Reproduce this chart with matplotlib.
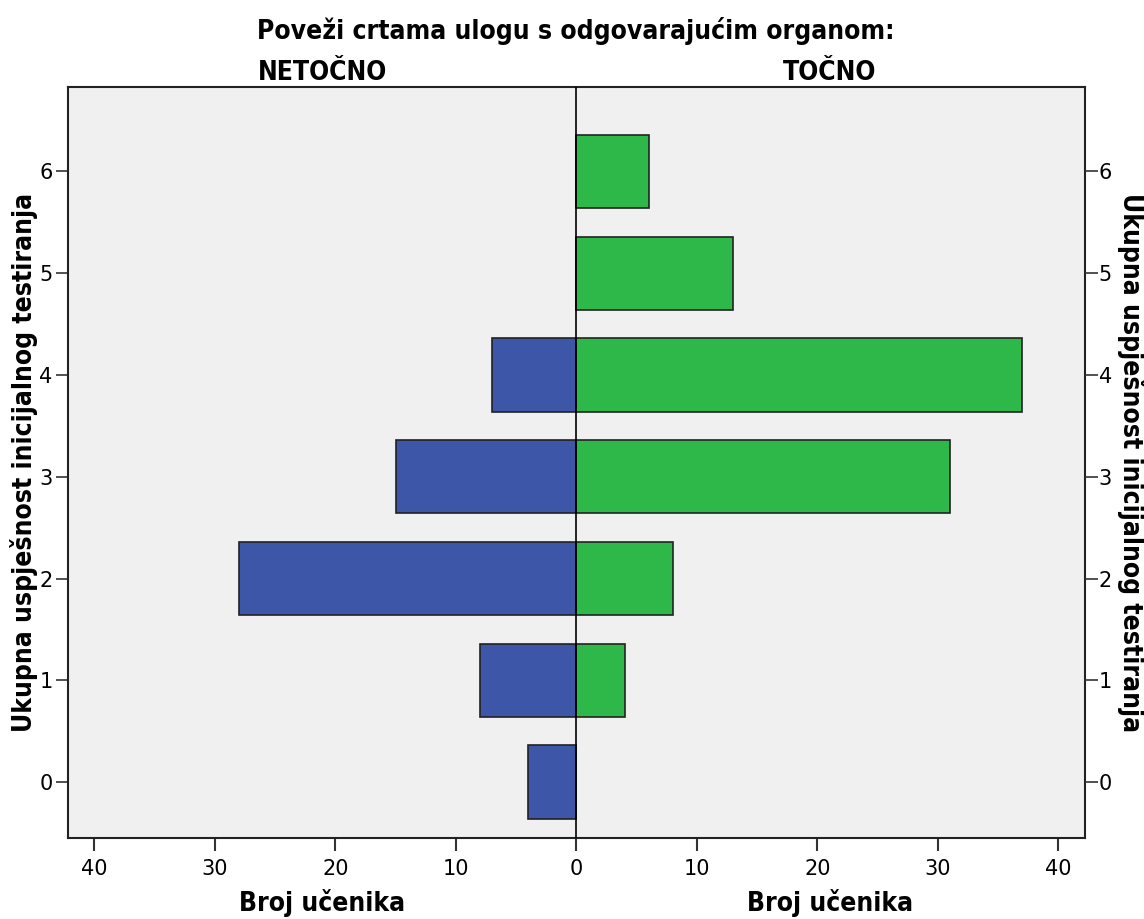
import matplotlib
matplotlib.use("Agg")
import matplotlib.pyplot as plt
import numpy as np

# data
scores = [0, 1, 2, 3, 4, 5, 6]
netocno = [4, 8, 28, 15, 7, 0, 0]
tocno = [0, 4, 8, 31, 37, 13, 6]

title = "Poveži crtama ulogu s odgovarajućim organom:"
left_head = "NETOČNO"
right_head = "TOČNO"
x_label = "Broj učenika"
y_label = "Ukupna uspješnost inicijalnog testiranja"
x_ticks = [-40, -30, -20, -10, 0, 10, 20, 30, 40]

BLUE = "#3d56a8"
GREEN = "#2eb84a"
BG = "#f0f0f0"
HEAD = dict(family="DejaVu Sans", stretch="condensed", weight="bold", size=19)
TICK = dict(family="Liberation Sans Narrow", size=15)

fig = plt.figure(figsize=(11.44, 9.19), dpi=100)
ax = fig.add_axes([0.0594, 0.0881, 0.8890, 0.8172])
ax.set_facecolor(BG)

y = np.array(scores)
ax.barh(y, -np.array(netocno), height=0.72, color=BLUE,
        edgecolor="#222222", linewidth=1.2, zorder=2)
ax.barh(y, tocno, height=0.72, color=GREEN,
        edgecolor="#222222", linewidth=1.2, zorder=2)
ax.axvline(0, color="black", linewidth=1.2, zorder=3)

ax.set_xlim(-42.2, 42.2)
ax.set_ylim(-0.55, 6.83)
ax.set_xticks(x_ticks)
ax.set_xticklabels([str(abs(v)) for v in x_ticks], **TICK)
ax.set_yticks(scores)
ax.set_yticklabels([str(s) for s in scores], **TICK)
ax.tick_params(axis="x", length=9, width=1.5, color="#333333", pad=6)
ax.tick_params(axis="y", length=9, width=1.2, color="#333333", pad=2)
for s in ax.spines.values():
    s.set_linewidth(1.5)
    s.set_color("#222222")

ax2 = ax.twinx()
ax2.set_ylim(ax.get_ylim())
ax2.set_yticks(scores)
ax2.set_yticklabels([str(s) for s in scores], **TICK)
ax2.tick_params(axis="y", length=9, width=1.2, color="#333333", pad=1)
for s in ax2.spines.values():
    s.set_visible(False)

fig.text(0.021, 0.497, y_label, rotation=90, ha="center", va="center", **HEAD)
fig.text(0.989, 0.497, y_label, rotation=270, ha="center", va="center", **HEAD)
fig.text(0.5035, 0.958, title, ha="center", va="baseline", **HEAD)
fig.text(0.2815, 0.913, left_head, ha="center", va="baseline", **HEAD)
fig.text(0.7255, 0.913, right_head, ha="center", va="baseline", **HEAD)
fig.text(0.2815, 0.009, x_label, ha="center", va="baseline", **HEAD)
fig.text(0.7255, 0.009, x_label, ha="center", va="baseline", **HEAD)

fig.savefig("out.png", dpi=100, facecolor="white")
